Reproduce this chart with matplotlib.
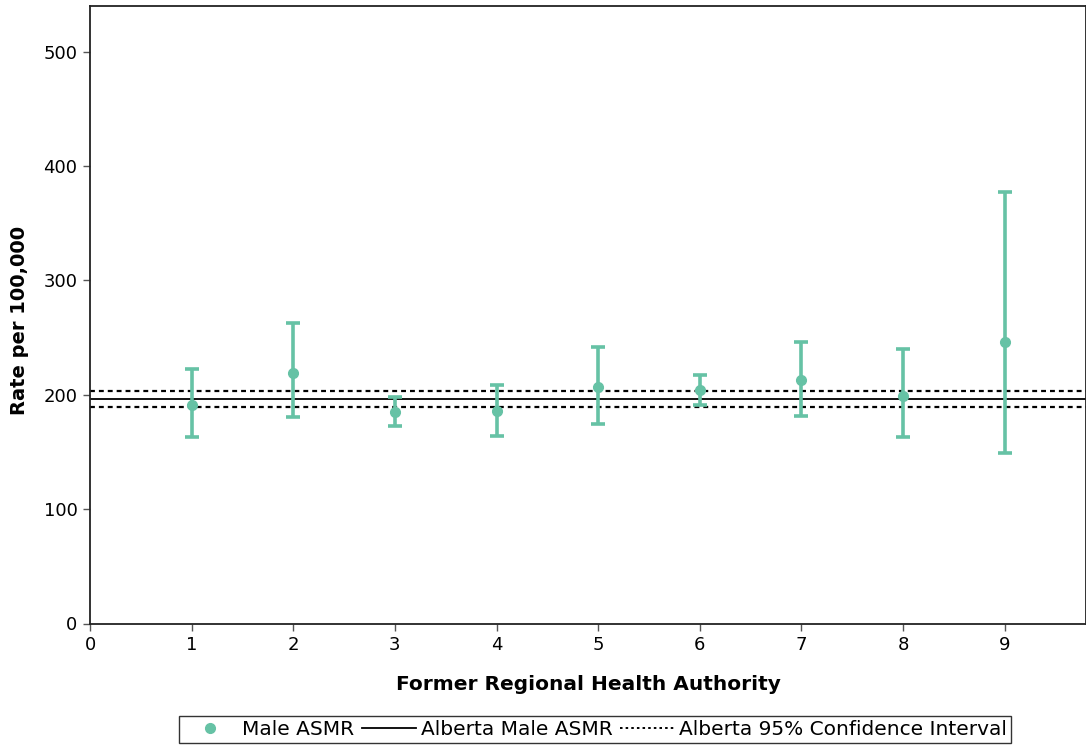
import numpy as np
import matplotlib
matplotlib.use("Agg")
import matplotlib.pyplot as plt
from matplotlib.lines import Line2D

# Former regional health authorities 1..9
RHA = [1, 2, 3, 4, 5, 6, 7, 8, 9]
ASMR = [191.4, 219.1, 184.7, 185.6, 207.2, 204.3, 212.7, 199.0, 246.2]
CI_LOW = [163.5, 180.3, 172.4, 164.3, 174.4, 190.9, 181.8, 162.9, 149.5]
CI_HIGH = [222.6, 263.1, 197.8, 208.9, 242.1, 217.1, 246.6, 240.4, 377.4]

ALBERTA_ASMR = 196.2
ALBERTA_CI = [189.2, 203.2]

GREEN = "#66c2a5"

plt.rcParams["font.family"] = ["DejaVu Sans"]

fig = plt.figure(figsize=(10.86, 7.46), dpi=100)
ax = fig.add_axes([90 / 1086, 1 - 623.5 / 746, 996 / 1086, 617.5 / 746])

asmr = np.array(ASMR)
yerr = [asmr - np.array(CI_LOW), np.array(CI_HIGH) - asmr]

ax.axhline(ALBERTA_ASMR, color="black", lw=1.3, zorder=2)
for v in ALBERTA_CI:
    ax.axhline(v, color="black", lw=1.6, ls=(0, (2.2, 1.8)), zorder=2)

ax.errorbar(RHA, ASMR, yerr=yerr, fmt="o", color=GREEN, ms=7,
            elinewidth=2.6, capsize=5, capthick=2.6, zorder=3)

ax.set_xlim(0, 9.8)
ax.set_ylim(0, 540)
ax.set_xticks(range(0, 10))
ax.set_yticks(range(0, 600, 100))
ax.tick_params(axis="both", direction="out", length=5, width=1, color="#555555",
               labelsize=13, pad=4)
for s in ax.spines.values():
    s.set_linewidth(1.3)
    s.set_color("#222222")

ax.set_xlabel("Former Regional Health Authority", fontsize=14.5,
              fontweight="bold", labelpad=15)
ax.set_ylabel("Rate per 100,000", fontsize=14, fontweight="bold")
ax.yaxis.set_label_coords(-61 / 996, 0.49)

handles = [
    Line2D([], [], marker="o", ls="none", color=GREEN, ms=7),
    Line2D([], [], color="black", lw=1.3),
    Line2D([], [], color="black", lw=1.4, ls=(0, (1.3, 1.6))),
]
labels = ["Male ASMR", "Alberta Male ASMR", "Alberta 95% Confidence Interval"]
leg = fig.legend(handles, labels, loc="lower center",
                 bbox_to_anchor=(595 / 1086, -7 / 746),
                 ncol=3, fontsize=14.5, frameon=True, fancybox=False,
                 edgecolor="black", handlelength=2.7, handletextpad=0.22,
                 columnspacing=0.4, borderpad=0.2)
leg.get_frame().set_linewidth(1.0)

fig.savefig("out.png", dpi=100)
